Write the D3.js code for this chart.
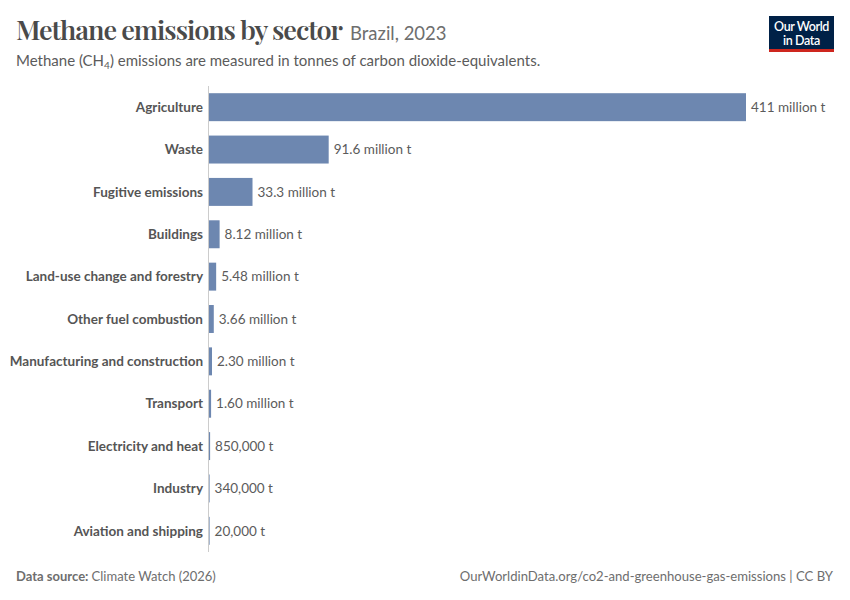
<!DOCTYPE html>
<html>
<head>
<meta charset="utf-8">
<script src="https://cdn.jsdelivr.net/npm/d3@7"></script>
<style>
  body { margin: 0; background: #fff; }
  text { font-family: Lato, "Noto Sans", sans-serif; }
</style>
</head>
<body>
<svg id="chart" width="850" height="600"></svg>
<script>
// Sectors and values (tonnes CO2-eq), top to bottom
var sectors = ["Agriculture", "Waste", "Fugitive emissions", "Buildings",
    "Land-use change and forestry", "Other fuel combustion",
    "Manufacturing and construction", "Transport", "Electricity and heat",
    "Industry", "Aviation and shipping"];
var values = [411e6, 91.6e6, 33.3e6, 8.12e6, 5.48e6, 3.66e6, 2.30e6, 1.60e6, 850000, 340000, 20000];
var valueLabels = ["411 million t", "91.6 million t", "33.3 million t", "8.12 million t",
    "5.48 million t", "3.66 million t", "2.30 million t", "1.60 million t",
    "850,000 t", "340,000 t", "20,000 t"];

var data = sectors.map(function(s, i) {
    return {sector: s, value: values[i], label: valueLabels[i]};
});

var svg = d3.select("#chart");

// Plot area
var margin = {top: 86, left: 209, bottom: 49, right: 104};

var xScale = d3.scaleLinear().domain([0, 411e6]).range([0, 537]);
var yScale = d3.scaleBand()
    .domain(sectors)
    .range([86, 552])
    .paddingInner(0.34)
    .paddingOuter(0.17);

// Header
svg.append("text")
    .attr("x", 16).attr("y", 40)
    .style("font-family", "'Playfair Display', 'Liberation Serif', 'DejaVu Serif', serif")
    .style("font-size", "27px")
    .style("font-weight", "600")
    .attr("fill", "#4a4a4a")
    .attr("textLength", 327)
    .text("Methane emissions by sector");

svg.append("text")
    .attr("x", 350).attr("y", 40)
    .style("font-size", "18.5px")
    .attr("fill", "#6e6e6e")
    .text("Brazil, 2023");

var sub = svg.append("text")
    .attr("x", 16).attr("y", 66)
    .style("font-size", "15px")
    .attr("fill", "#5b5b5b");
sub.append("tspan").text("Methane (CH");
sub.append("tspan").attr("dy", 3).style("font-size", "10px").text("4");
sub.append("tspan").attr("dy", -3).text(") emissions are measured in tonnes of carbon dioxide-equivalents.");

// Logo
var logo = svg.append("g").attr("transform", "translate(769,16)");
logo.append("rect").attr("width", 65).attr("height", 36).attr("fill", "#002147");
logo.append("rect").attr("y", 33).attr("width", 65).attr("height", 3).attr("fill", "#ce261e");
logo.append("text").attr("x", 32.5).attr("y", 15)
    .attr("text-anchor", "middle").attr("fill", "#fff")
    .style("font-size", "12.5px").style("font-weight", "600")
    .style("letter-spacing", "-0.4px")
    .text("Our World");
logo.append("text").attr("x", 32.5).attr("y", 28.5)
    .attr("text-anchor", "middle").attr("fill", "#fff")
    .style("font-size", "12.5px").style("font-weight", "600")
    .style("letter-spacing", "-0.4px")
    .text("in Data");

// Zero axis line
svg.append("line")
    .attr("x1", margin.left - 0.5).attr("x2", margin.left - 0.5)
    .attr("y1", 86).attr("y2", 552)
    .attr("stroke", "#cccccc").attr("stroke-width", 1);

var barG = svg.append("g").attr("transform", "translate(" + margin.left + ",0)");

barG.selectAll(".bar")
    .data(data)
    .enter()
    .append("rect")
    .attr("class", "bar")
    .attr("x", 0)
    .attr("y", function(d) { return yScale(d.sector); })
    .attr("width", function(d) { return Math.max(xScale(d.value), 0.6); })
    .attr("height", yScale.bandwidth())
    .attr("fill", "#6d87b0");

// Category labels
barG.selectAll(".cat")
    .data(data)
    .enter()
    .append("text")
    .attr("class", "cat")
    .attr("x", -6)
    .attr("y", function(d) { return yScale(d.sector) + yScale.bandwidth() / 2; })
    .attr("dy", "0.35em")
    .attr("text-anchor", "end")
    .style("font-size", "13.5px")
    .style("font-weight", "700")
    .attr("fill", "#555555")
    .text(function(d) { return d.sector; });

// Value labels
barG.selectAll(".val")
    .data(data)
    .enter()
    .append("text")
    .attr("class", "val")
    .attr("x", function(d) { return Math.max(xScale(d.value), 0.6) + 5; })
    .attr("y", function(d) { return yScale(d.sector) + yScale.bandwidth() / 2; })
    .attr("dy", "0.35em")
    .style("font-size", "13.5px")
    .attr("fill", "#5b5b5b")
    .text(function(d) { return d.label; });

// Footer
var src = svg.append("text")
    .attr("x", 16).attr("y", 581)
    .style("font-size", "13px")
    .attr("fill", "#6e6e6e");
src.append("tspan").style("font-weight", "700").text("Data source: ");
src.append("tspan").text("Climate Watch (2026)");

svg.append("text")
    .attr("x", 833).attr("y", 581)
    .attr("text-anchor", "end")
    .style("font-size", "13.1px")
    .attr("fill", "#6e6e6e")
    .text("OurWorldinData.org/co2-and-greenhouse-gas-emissions | CC BY");
</script>
</body>
</html>
